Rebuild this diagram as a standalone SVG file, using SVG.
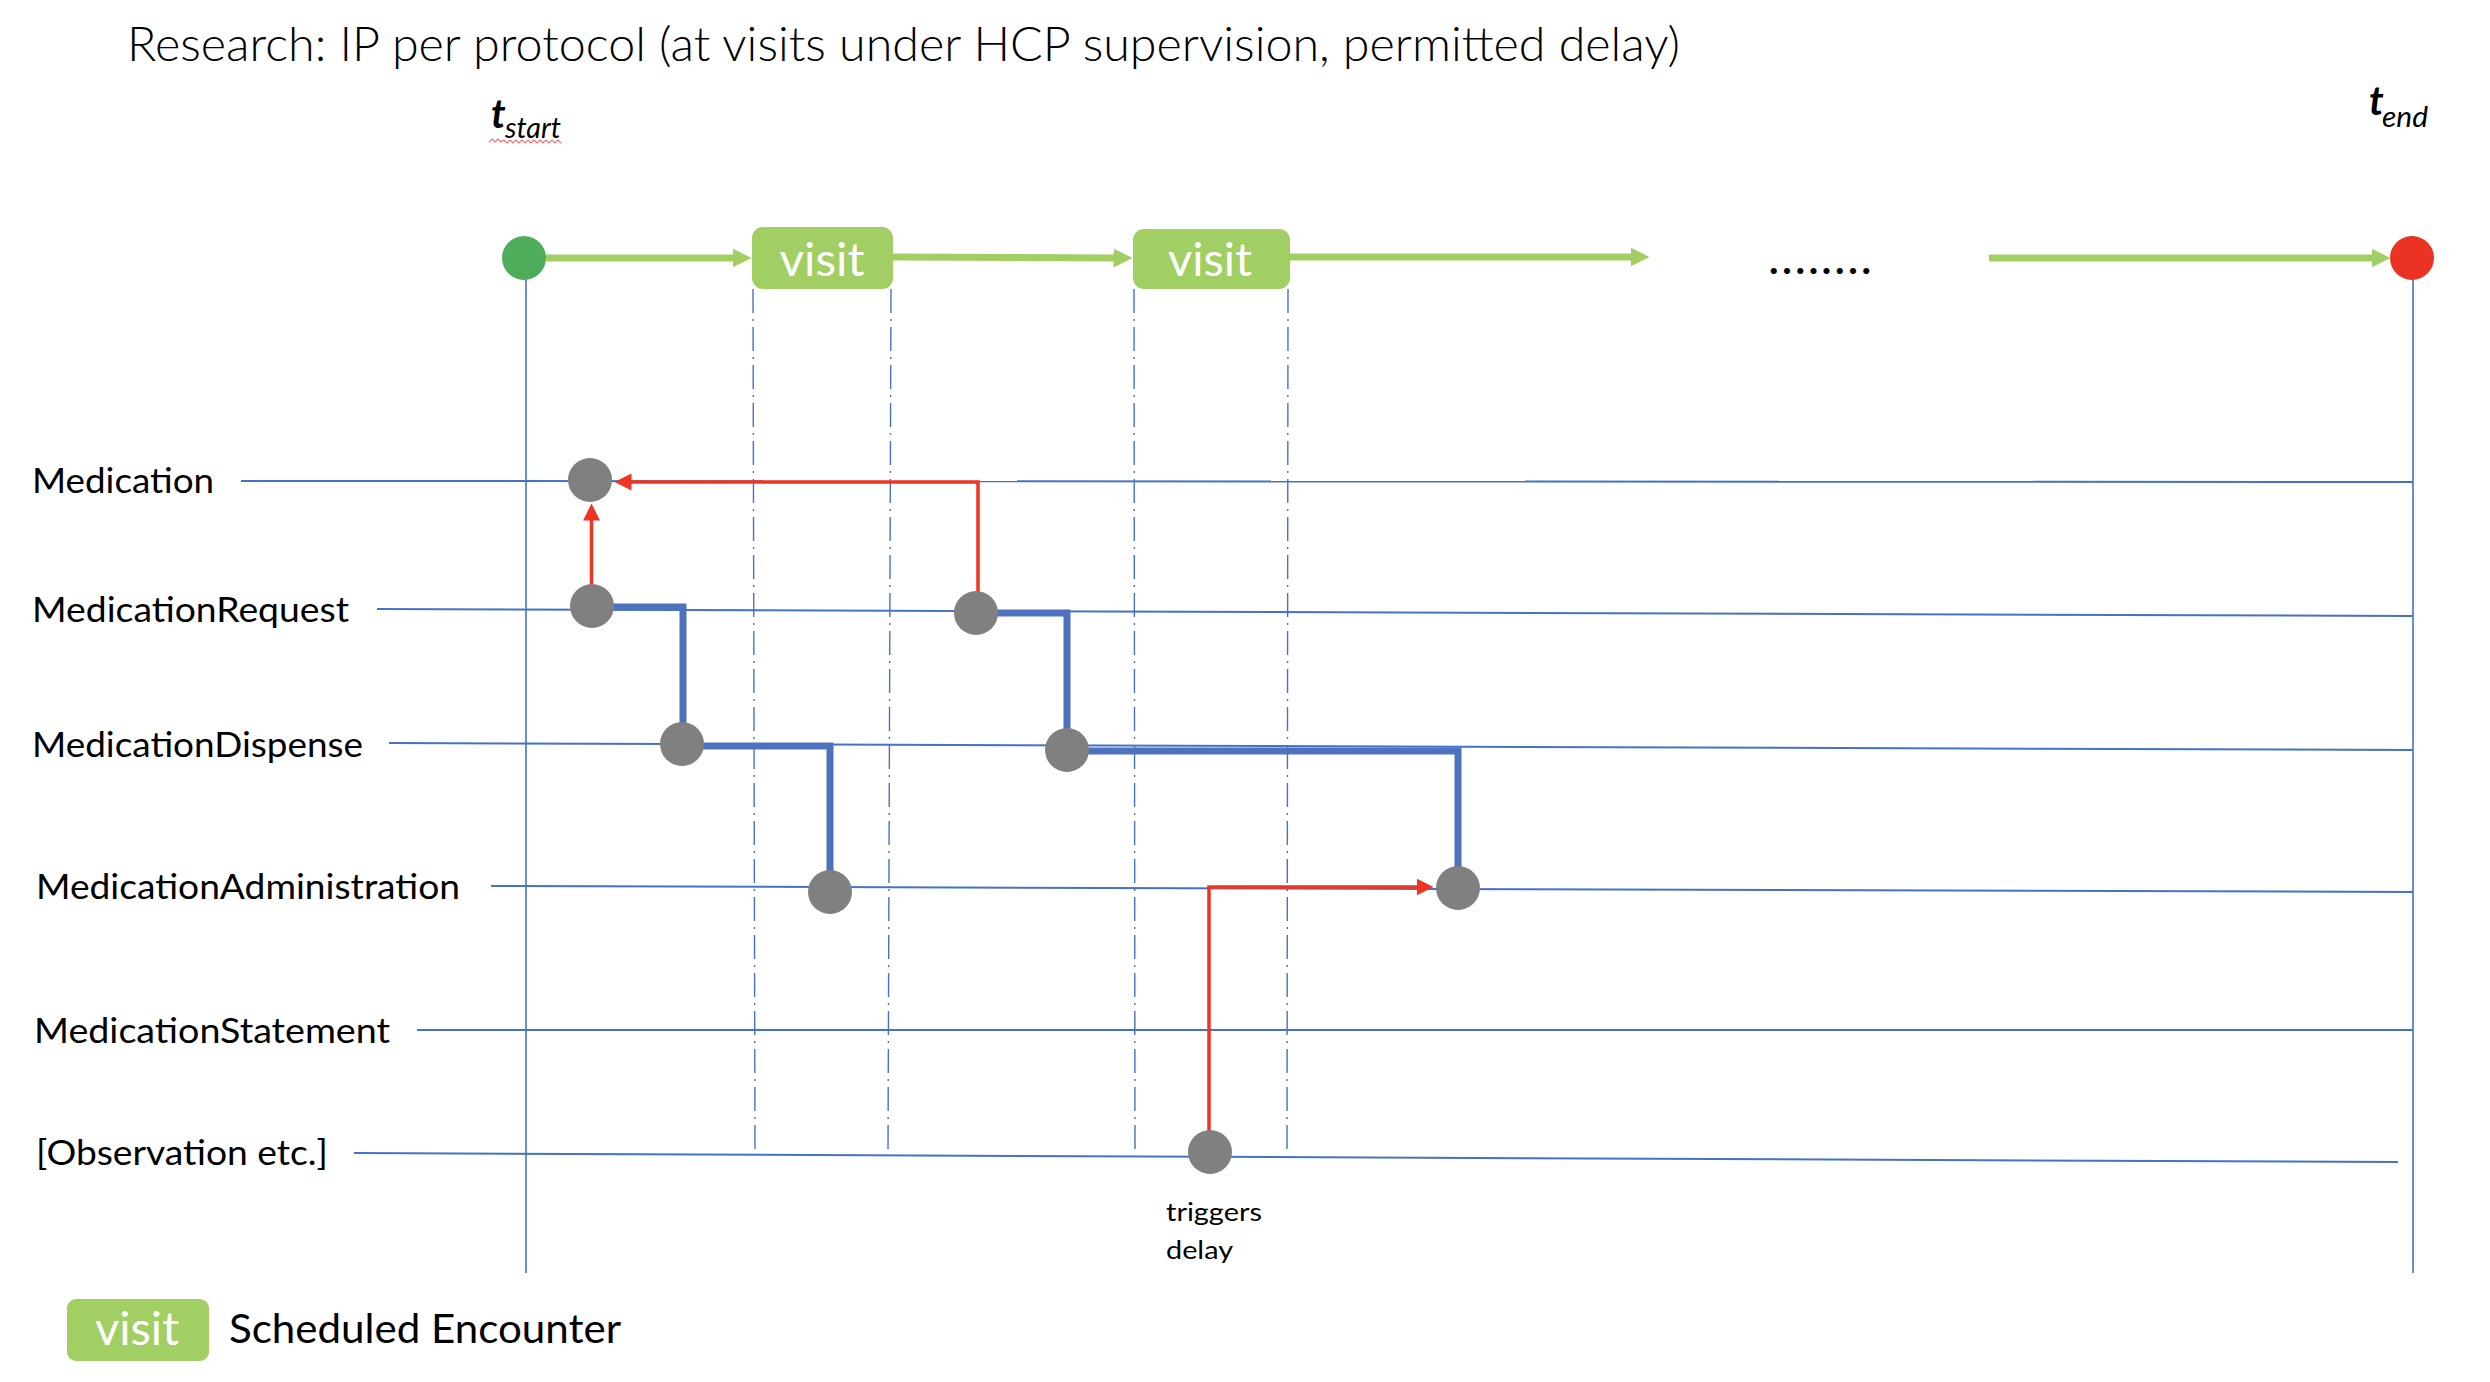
<svg xmlns="http://www.w3.org/2000/svg" width="2490" height="1382" viewBox="0 0 2490 1382">
<style>
  text { font-family: Lato, "Open Sans", "Liberation Sans", sans-serif; fill: #000; }
  .title { font-size: 47px; font-weight: 300; }
  .lane { font-size: 35px; }
  .legend { font-size: 40px; }
  .small { font-size: 25px; }
  .visit { font-size: 46px; fill: #fff; text-anchor: middle; }
  .ital { font-style: italic; }
  .laneline { stroke: #4472C4; stroke-width: 2; fill: none; }
  .axis { stroke: #4472C4; stroke-width: 1.6; fill: none; }
  .dashdot { stroke: #4472C4; stroke-width: 1.4; stroke-dasharray: 24 6 2 6; fill: none; }
  .green { stroke: #A1CF63; stroke-width: 7; fill: none; marker-end: url(#gArrow); }
  .box { fill: #A1CF63; }
  .ev { fill: #808080; }
  .blue { stroke: #4F72BF; stroke-width: 7; fill: none; stroke-linejoin: miter; }
  .red { stroke: #EE3524; stroke-width: 3.5; fill: none; marker-end: url(#rArrow); }
</style>
<defs>
  <marker id="gArrow" viewBox="0 0 19 19" markerWidth="19" markerHeight="19" refX="0.5" refY="9.5" orient="auto" markerUnits="userSpaceOnUse">
    <path d="M0,0 L19,9.5 L0,19 Z" fill="#A1CF63"/>
  </marker>
  <marker id="rArrow" viewBox="0 0 17 17" markerWidth="17" markerHeight="17" refX="0.5" refY="8.5" orient="auto" markerUnits="userSpaceOnUse">
    <path d="M0,0 L17,8.5 L0,17 Z" fill="#EE3524"/>
  </marker>
</defs>
<rect width="2490" height="1382" fill="#fff"/>

<text class="title" x="127" y="61" textLength="1553" lengthAdjust="spacingAndGlyphs">Research: IP per protocol (at visits under HCP supervision, permitted delay)</text>

<g id="t-start-label">
  <text class="ital" x="491" y="128" font-size="40" font-weight="bold">t</text>
  <text class="ital" x="505" y="138" font-size="28" textLength="56" lengthAdjust="spacingAndGlyphs">start</text>
  <polyline points="489,142 492,139 495,142 498,139 501,142 504,140 507,143 510,140 513,143 516,140 519,143 522,140 525,143 528,140 531,143 534,140 537,143 540,140 543,143 546,140 549,143 552,140 555,143 558,140 561,143" fill="none" stroke="#F07070" stroke-width="1.2"/>
</g>
<g id="t-end-label">
  <text class="ital" x="2369" y="115" font-size="40" font-weight="bold">t</text>
  <text class="ital" x="2382" y="127" font-size="28" textLength="46" lengthAdjust="spacingAndGlyphs">end</text>
</g>

<g id="axes">
  <line class="axis" x1="526" y1="258" x2="526" y2="1273"/>
  <line class="axis" x1="2413" y1="236" x2="2413" y2="1273"/>
  <line class="dashdot" x1="753" y1="289" x2="755" y2="1153"/>
  <line class="dashdot" x1="891" y1="289" x2="888" y2="1153"/>
  <line class="dashdot" x1="1134" y1="289" x2="1135" y2="1153"/>
  <line class="dashdot" x1="1288" y1="289" x2="1287" y2="1153"/>
</g>

<g id="lane-medication">
  <text class="lane" x="32" y="493" textLength="182" lengthAdjust="spacingAndGlyphs">Medication</text>
  <line class="laneline" x1="241" y1="481" x2="2413" y2="482"/>
</g>
<g id="lane-medicationrequest">
  <text class="lane" x="32" y="622" textLength="317" lengthAdjust="spacingAndGlyphs">MedicationRequest</text>
  <line class="laneline" x1="377" y1="609" x2="2413" y2="616"/>
</g>
<g id="lane-medicationdispense">
  <text class="lane" x="32" y="757" textLength="331" lengthAdjust="spacingAndGlyphs">MedicationDispense</text>
  <line class="laneline" x1="389" y1="743" x2="2413" y2="750"/>
</g>
<g id="lane-medicationadministration">
  <text class="lane" x="36" y="899" textLength="424" lengthAdjust="spacingAndGlyphs">MedicationAdministration</text>
  <line class="laneline" x1="491" y1="886" x2="2413" y2="892"/>
</g>
<g id="lane-medicationstatement">
  <text class="lane" x="34" y="1043" textLength="356" lengthAdjust="spacingAndGlyphs">MedicationStatement</text>
  <line class="laneline" x1="417" y1="1030" x2="2413" y2="1030" stroke-width="1.4"/>
</g>
<g id="lane-observation">
  <text class="lane" x="36" y="1165" textLength="292" lengthAdjust="spacingAndGlyphs">[Observation etc.]</text>
  <line class="laneline" x1="354" y1="1153" x2="2398" y2="1162"/>
</g>

<g id="connectors">
  <line class="green" x1="546" y1="258" x2="733" y2="258"/>
  <line class="green" x1="893" y1="257" x2="1114" y2="258"/>
  <line class="green" x1="1290" y1="257" x2="1631" y2="257"/>
  <line class="green" x1="1989" y1="258" x2="2372" y2="258"/>
  <path class="blue" d="M592,607 H683 V724"/>
  <path class="blue" d="M682,746 H830 V871"/>
  <path class="blue" d="M976,613 H1067 V729"/>
  <path class="blue" d="M1067,751 H1458 V867"/>
  <path class="red" d="M591.5,585 V520"/>
  <path class="red" d="M978,592 V482 H631"/>
  <path class="red" d="M1209,1131 V887 H1417"/>
</g>

<g id="start">
  <circle cx="524" cy="258" r="22" fill="#4EAD5B"/>
</g>
<g id="visit-1">
  <rect class="box" x="752" y="227" width="141" height="62" rx="11"/>
  <text class="visit" x="822" y="276" textLength="85" lengthAdjust="spacingAndGlyphs">visit</text>
</g>
<g id="visit-2">
  <rect class="box" x="1133" y="229" width="157" height="60" rx="11"/>
  <text class="visit" x="1210" y="276" textLength="84" lengthAdjust="spacingAndGlyphs">visit</text>
</g>
<g id="ellipsis">
  <text x="1769" y="274" font-size="40" font-weight="bold" textLength="102" lengthAdjust="spacing">........</text>
</g>
<g id="end">
  <circle cx="2412" cy="258" r="22" fill="#EA3323"/>
</g>

<g id="ev-medication"><circle class="ev" cx="590" cy="480" r="22"/></g>
<g id="ev-request-1"><circle class="ev" cx="592" cy="606" r="22"/></g>
<g id="ev-request-2"><circle class="ev" cx="976" cy="613" r="22"/></g>
<g id="ev-dispense-1"><circle class="ev" cx="682" cy="744" r="22"/></g>
<g id="ev-dispense-2"><circle class="ev" cx="1067" cy="750" r="22"/></g>
<g id="ev-admin-1"><circle class="ev" cx="830" cy="892" r="22"/></g>
<g id="ev-admin-2"><circle class="ev" cx="1458" cy="888" r="22"/></g>
<g id="ev-observation">
  <circle class="ev" cx="1210" cy="1152" r="22"/>
  <text class="small" x="1166" y="1221" textLength="96" lengthAdjust="spacingAndGlyphs">triggers</text>
  <text class="small" x="1166" y="1259" textLength="67" lengthAdjust="spacingAndGlyphs">delay</text>
</g>

<g id="legend">
  <rect class="box" x="67" y="1299" width="142" height="62" rx="9"/>
  <text class="visit" x="137" y="1345" font-size="42" textLength="84" lengthAdjust="spacingAndGlyphs">visit</text>
  <text class="legend" x="229" y="1343" textLength="392" lengthAdjust="spacingAndGlyphs">Scheduled Encounter</text>
</g>
</svg>
